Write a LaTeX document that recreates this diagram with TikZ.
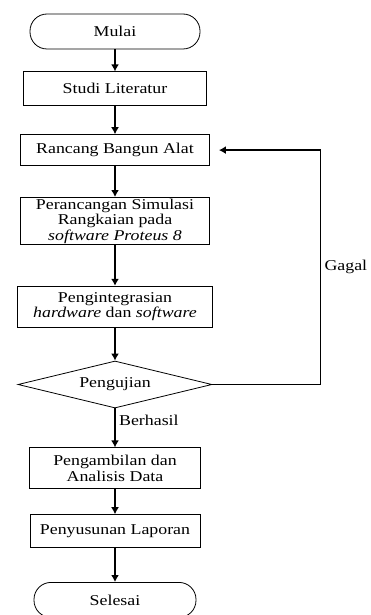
\documentclass[tikz,border=0pt]{standalone}
\usepackage{fontspec}
\setmainfont{Liberation Serif}[FakeStretch=1.19]
\usetikzlibrary{positioning,shapes.geometric,arrows.meta}

\begin{document}
\begin{tikzpicture}[x=1pt, y=1pt, node distance=22pt, font=\fontsize{15}{15.5}\selectfont]
    \tikzstyle{terminal} = [rectangle, draw, line width=0.8pt, rounded corners=17pt, minimum height=35pt, inner sep=0pt]
    \tikzstyle{process} = [rectangle, draw, line width=0.8pt, align=center, inner xsep=0pt, inner ysep=0.5pt]
    \tikzstyle{decision} = [diamond, draw, line width=0.8pt, inner sep=0pt, aspect=4, minimum width=194pt, minimum height=47pt]
    \tikzstyle{line} = [draw, line width=1.6pt, -{Latex[length=7pt,width=8pt]}]

    \useasboundingbox (0,0) rectangle (370,-615);

    \node [terminal, minimum width=170pt] (start) at (115,-31.5) {Mulai};
    \node [process, minimum width=183pt, minimum height=34pt, below=22pt of start] (study) {Studi Literatur};
    \node [process, minimum width=189pt, minimum height=31pt, below=28pt of study] (design) {Rancang Bangun Alat};
    \node [process, minimum width=189pt, minimum height=47pt, below=31pt of design] (sim) {Perancangan Simulasi\\Rangkaian pada\\\textit{software Proteus 8}};
    \node [process, minimum width=195pt, minimum height=41pt, below=41pt of sim] (integ) {Pengintegrasian\\\textit{hardware} dan \textit{software}};
    \node [decision, below=33pt of integ] (test) {Pengujian};
    \node [process, minimum width=171pt, minimum height=41pt, below=39pt of test] (collect) {Pengambilan dan\\Analisis Data};
    \node [process, minimum width=170pt, minimum height=33pt, below=25pt of collect] (report) {Penyusunan Laporan};
    \node [terminal, minimum width=162pt, below=34pt of report] (stop) {Selesai};

    \draw [line] (start) -- (study);
    \draw [line] (study) -- (design);
    \draw [line] (design) -- (sim);
    \draw [line] (sim) -- (integ);
    \draw [line] (integ) -- (test);
    \draw [line] (test) -- node [right, pos=0.3] {Berhasil} (collect);
    \draw [line] (collect) -- (report);
    \draw [line] (report) -- (stop);
    \draw [line] (test.east) -- ++(108,0) |- node [right, pos=0.25] {Gagal} ([xshift=9pt]design.east);
\end{tikzpicture}
\end{document}
